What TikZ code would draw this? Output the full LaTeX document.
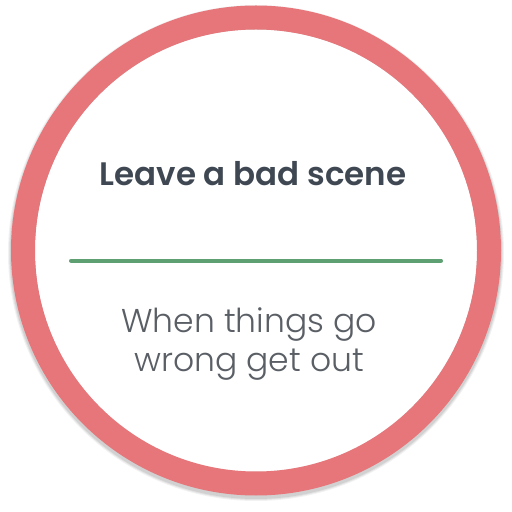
\documentclass[tikz,border=0pt]{standalone}
\usepackage{fontspec}
\setmainfont{Poppins}
\newfontfamily\titlefont{Poppins SemiBold}
\newfontfamily\subfont{Poppins Light}
\definecolor{ringred}{HTML}{E6767A}
\definecolor{linegreen}{HTML}{5FA073}
\definecolor{titlegray}{HTML}{3F4852}
\definecolor{subgray}{HTML}{5A5F66}
\begin{document}
\begin{tikzpicture}[x=1pt,y=1pt,
  ringstyle/.style={draw=ringred,line width=24pt},
  titlestyle/.style={font=\titlefont\fontsize{32.5}{38}\selectfont,text=titlegray,inner sep=0pt},
  substyle/.style={font=\subfont\fontsize{33}{38.7}\selectfont,text=subgray,align=center,inner sep=0pt}]
\useasboundingbox (0,0) rectangle (512,512);
\fill[white] (0,0) rectangle (512,512);
\foreach \o/\w in {0.05/30,0.06/28,0.08/26}
  \draw[black,opacity=\o,line width=\w pt] (256,259) circle (233);
\fill[white] (256,261.5) circle (221);
\draw[ringstyle] (256,261.5) circle (233);
\node[titlestyle,anchor=base] (title) at (253,326) {Leave a bad scene};
\coordinate (la) at (71,251.3);
\coordinate (lb) at (441,251.3);
\draw[linegreen,line width=4pt,line cap=round] (la) -- (lb);
\node[substyle,anchor=base] (sub) at (249,140.3) {When things go\\wrong get out};
\end{tikzpicture}
\end{document}
